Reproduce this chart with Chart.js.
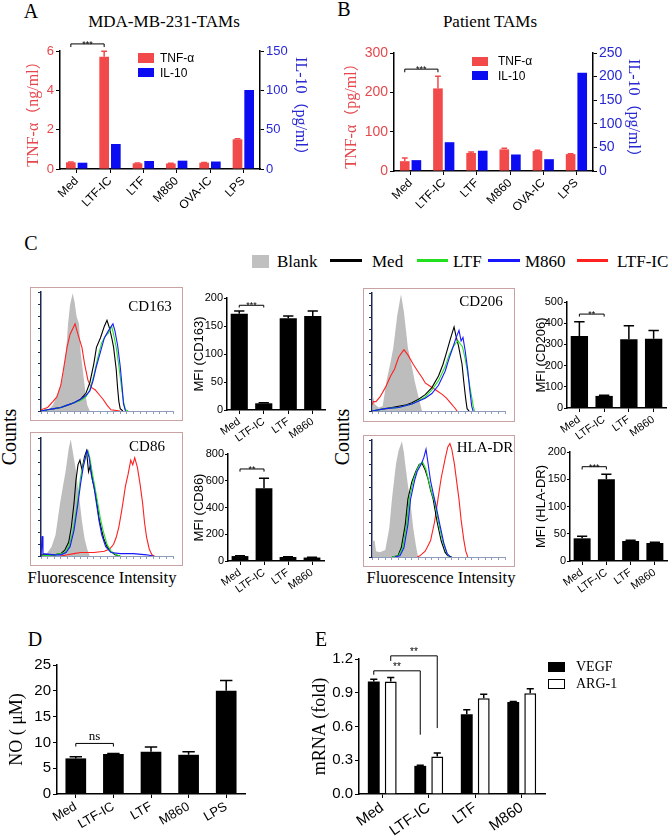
<!DOCTYPE html>
<html>
<head>
<meta charset="utf-8">
<script src="https://cdn.jsdelivr.net/npm/chart.js@4.4.0/dist/chart.umd.min.js"></script>
<style>
  body { margin: 0; background: #fff; width: 669px; height: 837px; position: relative; overflow: hidden; }
  canvas { position: absolute; }
</style>
</head>
<body>
<script>
// ---- data ----
const catsAB = ['Med', 'LTF-IC', 'LTF', 'M860', 'OVA-IC', 'LPS'];
const tnfA = [0.34, 5.71, 0.29, 0.28, 0.32, 1.51];
const tnfAErr = [0.02, 0.28, 0.01, 0.01, 0.01, 0.03];
const il10A = [8, 31.8, 10.2, 10.6, 9.5, 100.4];
const tnfB = [25, 210, 46, 55, 51, 43];
const tnfBErr = [8, 31, 2, 3, 2, 1];
const il10B = [23, 61, 43, 35, 25, 208];

const catsC = ['Med', 'LTF-IC', 'LTF', 'M860'];
const mfiCD163 = [172, 12, 164, 168];
const mfiCD163Err = [5, 1, 4, 9];
const mfiCD86 = [37, 543, 30, 26];
const mfiCD86Err = [3, 75, 2, 2];
const mfiCD206 = [340, 57, 324, 327];
const mfiCD206Err = [67, 3, 64, 38];
const mfiHLADR = [41.6, 150, 36.7, 33];
const mfiHLADRErr = [4, 9, 1.5, 1.5];

const catsD = ['Med', 'LTF-IC', 'LTF', 'M860', 'LPS'];
const noD = [6.9, 7.75, 8.2, 7.6, 20];
const noDErr = [0.3, 0.1, 0.9, 0.6, 2];

const catsE = ['Med', 'LTF-IC', 'LTF', 'M860'];
const vegf = [1.0, 0.25, 0.71, 0.817];
const vegfErr = [0.02, 0.005, 0.04, 0.005];
const arg1 = [1.0, 0.334, 0.852, 0.896];
const arg1Err = [0.035, 0.03, 0.035, 0.04];

// histogram curves [intensity, counts] (both 0-100)
const h163Blank = [[5,0],[9,5],[13,15],[16,26],[19,50],[20.5,74],[22,90],[24,100],[25.5,92],[27,80],[28.8,74],[30,50],[32.6,26],[34,12],[35,5],[37,0]];
const h163Red = [[0,1],[5,3],[9,8],[12,12],[15,22],[17,35],[19.7,54],[22,65],[25.8,74],[28,65],[31,54],[33,40],[35.6,26],[38,20],[41,18],[44,14],[47,10],[50,5],[53,1],[60,0]];
const h163Med = [[0,0],[5,1],[10,2],[15,3],[20,5],[25,7],[30,10],[34,15],[37,24],[40,40],[42,54],[45,62],[48,72],[50,77],[52,70],[54,60],[55,54],[57,35],[58,20],[59,8],[60,2],[62,0]];
const h163Ltf = [[0,0],[5,1],[10,2],[15,3],[20,5],[25,7],[30,9],[34,12],[37,18],[40,30],[43,45],[46,58],[49,64],[51,66],[53.5,72],[55,65],[57,54],[59,38],[61,20],[62.5,8],[64,1],[66,0]];
const h163M860 = [[0,0],[5,1],[10,2],[15,3],[20,5],[25,7],[30,10],[34,13],[37,17],[39.5,26],[42,38],[45,50],[48,62],[51,68],[54.5,74],[56,68],[58,56],[60,38],[61.5,20],[62.5,6],[64,0]];

const h86Blank = [[3,0],[5,3],[8,8],[11,18],[14.4,45],[17,62],[18.7,73],[21,92],[22.5,100],[24,90],[26.5,73],[28,58],[29.5,45],[31,30],[33,15],[35,6],[37,0]];
const h86Red = [[15,0],[20,1],[25,2],[30,3],[40,3],[48,4],[52,6],[55,10],[57,16],[59,25],[61,38],[62,45],[64,60],[66,70],[68,82],[69.5,78],[71,84],[73,76],[75,62],[77,45],[78.5,28],[80,16],[82,6],[84,1],[86,0]];
const h86Med = [[0,1],[5,1],[10,1],[15,2],[18,5],[21,12],[23,25],[25,45],[26.5,65],[28,78],[29.5,82],[31,74],[33,85],[34.5,90],[36,72],[37.5,78],[39,65],[41,55],[42.4,45],[44,32],[46,22],[47.5,15],[50,8],[53,4],[56,1],[60,0]];
const h86Ltf = [[0,0],[10,1],[15,2],[18,3],[21,8],[24,20],[27.5,45],[30,68],[32,78],[34,86],[35.6,90],[37,84],[39,70],[41,58],[43,45],[45,32],[47,22],[50,10],[53,4],[57,1],[60,0]];
const h86M860 = [[0,0],[0.8,17],[1.5,2],[10,1],[15,1],[19,3],[22,8],[25,22],[28,45],[30,62],[32,76],[34,86],[35,90],[36.5,84],[38,70],[40,60],[42,45],[44,30],[46,18],[49,8],[53,3],[60,2],[70,2],[80,1],[85,0]];

const h206Blank = [[0,0],[0.5,14],[2,6],[5,3],[8,4],[11,26],[14,42],[16,54],[19,82],[21.8,100],[24,85],[27,54],[30,38],[32,26],[35,12],[37.6,0]];
const h206Red = [[0,5],[1,8],[3,8],[6,12],[10,20],[14,30],[17,36],[20,46],[24,52.5],[27,48],[31,40],[35,33],[38,28],[40,24],[44,21],[48,18],[53,14],[56,11],[59,7],[62,3],[64,0]];
const h206Med = [[0,0],[5,1],[10,2],[15,3],[20,4],[25,5],[30,7],[35,10],[40,14],[45,20],[50,30],[53.4,40],[56,50],[59,62],[61.7,72],[63,65],[65,56],[67.7,40],[69,25],[70.5,10],[71.5,2],[73,0]];
const h206Ltf = [[0,0],[10,2],[20,3],[30,6],[40,12],[45,18],[50,26],[55,38],[58,48],[61,55],[63,58],[64.7,60],[66,58],[68,55],[70,45],[72,32],[74,18],[76,5],[77,0]];
const h206M860 = [[0,0],[10,2],[20,3],[30,6],[40,11],[45,15],[50,22],[55,34],[58,45],[61,55],[63,62],[65.4,69],[67,60],[68.4,63],[70,52],[72,35],[73.5,18],[75,4],[76,0]];

const hHlaBlank = [[0,0],[0.5,14],[2,14],[3,5],[6,4],[10,6],[13,25],[15,50],[18,80],[20,92],[22.5,100],[24,90],[25,80],[27,62],[28.6,50],[31,25],[33,10],[34.6,0]];
const hHlaRed = [[34,0],[36,1],[40,5],[44,14],[47,30],[49.6,50],[52,68],[55,85],[57,95],[58.6,98],[60,93],[62,80],[64,62],[65.4,50],[67,32],[69,15],[70.5,5],[72,0]];
const hHlaMed = [[15,0],[19.5,1],[22,8],[25,28],[27,50],[30,65],[33,74],[35.5,80],[37.6,81],[40,75],[42,68],[44,58],[46,50],[49,30],[52,14],[55,4],[57,1],[60,0]];
const hHlaLtf = [[15,0],[20,1],[23,8],[26,28],[28,50],[31,66],[34,76],[36,80],[38,82],[40.5,76],[43,64],[45,55],[47,48],[50,30],[53,14],[56,4],[58,0]];
const hHlaM860 = [[17,0],[21,1],[24,8],[27,28],[29,50],[32,66],[34,74],[37,80],[39,86],[40.6,93],[42,82],[44,66],[46,55],[48,45],[51,28],[54,12],[56.5,3],[59,0]];

// ---- styles ----
const SANS = "'Liberation Sans', Arial, sans-serif";
const SERIF = "'Liberation Serif', 'Noto Sans CJK SC', serif";
const RED = '#f24a4a';
const BLUE = '#0c0cf2';
const RED_TXT = '#e5484c';
const BLUE_TXT = '#2828d2';

function el(tag, css, text) {
  const d = document.createElement(tag);
  d.style.cssText = 'position:absolute;' + css;
  if (text !== undefined) d.textContent = text;
  document.body.appendChild(d);
  return d;
}

// text centred on (x, y); left:true anchors left edge instead
function txt(s, x, y, o) {
  const tx = o.left ? '0' : '-50%';
  el('div', `left:${x}px;top:${y}px;white-space:nowrap;line-height:1;font-family:${o.fam || SERIF};` +
    `font-size:${o.size}px;color:${o.color || '#000'};transform:translate(${tx},-50%) rotate(${o.rot || 0}deg);`, s);
}

function rect(x, y, w, h, css) {
  el('div', `left:${x}px;top:${y}px;width:${w}px;height:${h}px;box-sizing:border-box;${css}`);
}

// canvas placed so that the plot area lands on plot {l,r,t,b}
function canvasFor(plot, m) {
  const c = document.createElement('canvas');
  const w = plot.r - plot.l + m.l + m.r;
  const h = plot.b - plot.t + m.t + m.b;
  c.width = w; c.height = h;
  c.style.cssText = `left:${plot.l - m.l}px;top:${plot.t - m.t}px;width:${w}px;height:${h}px`;
  document.body.appendChild(c);
  return c;
}

const errorBars = {
  id: 'errorBars',
  afterDatasetsDraw(chart) {
    const ctx = chart.ctx;
    chart.data.datasets.forEach((ds, i) => {
      if (!ds.err) return;
      const meta = chart.getDatasetMeta(i);
      const scale = chart.scales[meta.yAxisID];
      meta.data.forEach((bar, j) => {
        const e = ds.err[j];
        if (!e) return;
        const yTop = scale.getPixelForValue(ds.data[j] + e);
        const hw = bar.width * 0.3;
        ctx.save();
        ctx.strokeStyle = ds.errColor || ds.backgroundColor;
        ctx.lineWidth = 1.5;
        ctx.beginPath();
        ctx.moveTo(bar.x, bar.y);
        ctx.lineTo(bar.x, yTop);
        ctx.moveTo(bar.x - hw, yTop);
        ctx.lineTo(bar.x + hw, yTop);
        ctx.stroke();
        ctx.restore();
      });
    });
  }
};

// significance brackets: a/b = [dataset, index], y = line value, ya/yb = leg ends
function bracketPlugin(items) {
  return {
    id: 'brackets',
    afterDatasetsDraw(chart) {
      const ctx = chart.ctx;
      const ys = chart.scales.y;
      items.forEach(b => {
        const x1 = chart.getDatasetMeta(b.a[0]).data[b.a[1]].x;
        const x2 = chart.getDatasetMeta(b.b[0]).data[b.b[1]].x;
        const y = ys.getPixelForValue(b.y);
        ctx.save();
        ctx.strokeStyle = '#000';
        ctx.lineWidth = 1;
        ctx.beginPath();
        ctx.moveTo(x1, ys.getPixelForValue(b.ya));
        ctx.lineTo(x1, y);
        ctx.lineTo(x2, y);
        ctx.lineTo(x2, ys.getPixelForValue(b.yb));
        ctx.stroke();
        ctx.fillStyle = '#000';
        ctx.font = b.font || `10px ${SANS}`;
        ctx.textAlign = 'center';
        ctx.textBaseline = 'alphabetic';
        ctx.fillText(b.text, (x1 + x2) / 2, y + (b.dy || 0));
        ctx.restore();
      });
    }
  };
}

function yAxis(o) {
  return {
    position: o.pos || 'left',
    min: 0, max: o.max,
    ticks: { stepSize: o.step, color: o.color || '#000', font: { family: SANS, size: o.size }, padding: o.pad || 2,
             callback: o.fmt || (v => v) },
    grid: { drawOnChartArea: false, tickLength: o.tl || 4, color: '#000', lineWidth: 1 },
    border: { color: '#000', width: 1.5 },
    title: { display: true, text: o.title, color: o.tcolor || '#000', padding: 0,
             font: { family: o.tfam || SANS, size: o.tsize, lineHeight: 1 } },
    afterFit: s => { s.width = o.w; }
  };
}

function xAxis(o) {
  return {
    ticks: { color: '#000', font: { family: SANS, size: o.size }, maxRotation: o.rot, minRotation: o.rot,
             padding: 1, autoSkip: false },
    grid: { offset: false, drawOnChartArea: false, tickLength: 4, color: '#000', lineWidth: 1 },
    border: { color: '#000', width: 1.5 },
    afterFit: s => { s.height = o.h; }
  };
}

function barChart(cfg) {
  const c = canvasFor(cfg.plot, cfg.m);
  const scales = { x: cfg.x, y: cfg.y };
  if (cfg.y1) scales.y1 = cfg.y1;
  new Chart(c, {
    type: 'bar',
    data: { labels: cfg.labels, datasets: cfg.datasets },
    options: {
      responsive: false, animation: false,
      layout: { padding: { top: cfg.m.t, right: cfg.y1 ? 0 : cfg.m.r, left: 0, bottom: 0 } },
      plugins: { legend: { display: false }, tooltip: { enabled: false } },
      scales
    },
    plugins: [errorBars, bracketPlugin(cfg.brackets || [])]
  });
}

function histChart(plot, curves) {
  const m = { l: 4, r: 4, t: 4, b: 6 };
  const c = canvasFor(plot, m);
  const cols = { red: '#ff2020', med: '#000000', ltf: '#20e020', m860: '#1818ff' };
  const order = { red: 4, med: 3, ltf: 2, m860: 1 };
  const datasets = [{
    data: curves.blank.map(p => ({ x: p[0], y: p[1] })), showLine: true, pointRadius: 0,
    borderWidth: 0, borderColor: '#bdbdbd', backgroundColor: '#bdbdbd', fill: 'origin', order: 10
  }];
  ['red', 'med', 'ltf', 'm860'].forEach(k => {
    datasets.push({
      data: curves[k].map(p => ({ x: p[0], y: p[1] })), showLine: true, pointRadius: 0,
      borderWidth: 1.1, borderColor: cols[k], backgroundColor: cols[k], fill: false, order: order[k]
    });
  });
  new Chart(c, {
    type: 'scatter',
    data: { datasets },
    options: {
      responsive: false, animation: false,
      layout: { padding: { top: m.t, right: m.r, left: 0, bottom: 0 } },
      plugins: { legend: { display: false }, tooltip: { enabled: false } },
      scales: {
        x: { type: 'linear', min: 0, max: 100, ticks: { display: false, stepSize: 5 },
             grid: { drawOnChartArea: false, tickLength: 3, color: '#8e9cba' },
             border: { color: '#8e9cba', width: 1 }, afterFit: s => { s.height = m.b; } },
        y: { min: 0, max: 101, ticks: { display: false, stepSize: 10 },
             grid: { drawOnChartArea: false, tickLength: 3, color: '#1b2a52' },
             border: { color: '#1b2a52', width: 1.5 }, afterFit: s => { s.width = m.l; } }
      }
    }
  });
}

// ---- panel A ----
txt('A', 31, 11, { size: 20 });
txt('MDA-MB-231-TAMs', 164, 21, { size: 17 });
barChart({
  plot: { l: 60, r: 260, t: 51, b: 169 }, m: { l: 34, r: 48, t: 16, b: 50 },
  labels: catsAB,
  datasets: [
    { data: tnfA, err: tnfAErr, backgroundColor: RED, yAxisID: 'y', categoryPercentage: 0.7, barPercentage: 0.83 },
    { data: il10A, backgroundColor: BLUE, yAxisID: 'y1', categoryPercentage: 0.7, barPercentage: 0.83 }
  ],
  x: xAxis({ size: 12, rot: 45, h: 50 }),
  y: yAxis({ max: 6, step: 2, size: 13, color: RED_TXT, title: 'TNF-α（ng/ml）', tcolor: RED_TXT, tfam: SERIF, tsize: 16, w: 34 }),
  y1: yAxis({ pos: 'right', max: 150, step: 50, size: 13, color: BLUE_TXT, title: 'IL-10（pg/ml）', tcolor: BLUE_TXT, tfam: SERIF, tsize: 16, w: 48 }),
  brackets: [{ a: [0, 0], b: [0, 1], y: 6.36, ya: 6.2, yb: 6.2, text: '***', dy: 3, font: `9px ${SANS}` }]
});
rect(138, 53, 16, 10, `background:${RED}`);
txt('TNF-α', 160, 58, { size: 12, fam: SANS, left: true });
rect(138, 68, 16, 9, `background:${BLUE}`);
txt('IL-10', 160, 73, { size: 12, fam: SANS, left: true });

// ---- panel B ----
txt('B', 344, 9, { size: 20 });
txt('Patient TAMs', 490, 21, { size: 17 });
barChart({
  plot: { l: 394, r: 593, t: 53, b: 171 }, m: { l: 50, r: 48, t: 16, b: 50 },
  labels: catsAB,
  datasets: [
    { data: tnfB, err: tnfBErr, backgroundColor: RED, yAxisID: 'y', categoryPercentage: 0.7, barPercentage: 0.83 },
    { data: il10B, backgroundColor: BLUE, yAxisID: 'y1', categoryPercentage: 0.7, barPercentage: 0.83 }
  ],
  x: xAxis({ size: 12, rot: 45, h: 50 }),
  y: yAxis({ max: 300, step: 100, size: 14, color: RED_TXT, title: 'TNF-α（pg/ml）', tcolor: RED_TXT, tfam: SERIF, tsize: 16, w: 50 }),
  y1: yAxis({ pos: 'right', max: 250, step: 50, size: 14, color: BLUE_TXT, title: 'IL-10（pg/ml）', tcolor: BLUE_TXT, tfam: SERIF, tsize: 16, w: 48 }),
  brackets: [{ a: [0, 0], b: [0, 1], y: 259, ya: 251, yb: 251, text: '***', dy: 3, font: `9px ${SANS}` }]
});
rect(472, 57, 16, 9, `background:${RED}`);
txt('TNF-α', 498, 61, { size: 12, fam: SANS, left: true });
rect(472, 71, 16, 9, `background:${BLUE}`);
txt('IL-10', 498, 76, { size: 12, fam: SANS, left: true });

// ---- panel C ----
txt('C', 31, 243, { size: 20 });
rect(252, 255, 17, 13, 'background:#c0c0c0');
txt('Blank', 277, 261, { size: 17, left: true });
rect(330, 259, 32, 3, 'background:#000');
txt('Med', 372, 261, { size: 17, left: true });
rect(417, 259, 31, 3, 'background:#20e020');
txt('LTF', 453, 261, { size: 17, left: true });
rect(488, 259, 32, 3, 'background:#1818ff');
txt('M860', 525, 261, { size: 17, left: true });
rect(577, 259, 31, 3, 'background:#ff2020');
txt('LTF-IC', 617, 261, { size: 17, left: true });

const frameCss = 'border:1px solid #c9a3a3';
rect(30, 287, 153, 134, frameCss);
rect(30, 432, 153, 134, frameCss);
rect(363, 288, 152, 134, frameCss);
rect(363, 435, 152, 132, frameCss);

histChart({ l: 41, r: 173, t: 292, b: 411 }, { blank: h163Blank, red: h163Red, med: h163Med, ltf: h163Ltf, m860: h163M860 });
histChart({ l: 41, r: 173, t: 438, b: 556 }, { blank: h86Blank, red: h86Red, med: h86Med, ltf: h86Ltf, m860: h86M860 });
histChart({ l: 372, r: 505, t: 293, b: 411 }, { blank: h206Blank, red: h206Red, med: h206Med, ltf: h206Ltf, m860: h206M860 });
histChart({ l: 372, r: 505, t: 440, b: 557 }, { blank: hHlaBlank, red: hHlaRed, med: hHlaMed, ltf: hHlaLtf, m860: hHlaM860 });

txt('CD163', 150, 306, { size: 15 });
txt('CD86', 147, 446, { size: 15 });
txt('CD206', 481, 301, { size: 15 });
txt('HLA-DR', 485, 447, { size: 15 });
txt('Counts', 9, 437, { size: 20, rot: -90 });
txt('Counts', 342, 437, { size: 20, rot: -90 });
txt('Fluorescence Intensity', 102, 578, { size: 16.5 });
txt('Fluorescence Intensity', 441, 578, { size: 16.5 });

function mfiChart(plot, ml, mr, data, err, max, step, title, br) {
  barChart({
    plot, m: { l: ml, r: mr, t: 16, b: 40 },
    labels: catsC,
    datasets: [{ data, err, backgroundColor: '#000', categoryPercentage: 0.7, barPercentage: 1 }],
    x: xAxis({ size: 11, rot: 35, h: 40 }),
    y: yAxis({ max, step, size: 11, pad: 1, tl: 3, title, tsize: 13, w: ml }),
    brackets: [br]
  });
}
mfiChart({ l: 227, r: 325, t: 298, b: 410 }, 34, 8, mfiCD163, mfiCD163Err, 200, 50, 'MFI (CD163)',
  { a: [0, 0], b: [0, 1], y: 187, ya: 183, yb: 183, text: '***', dy: 3, font: `9px ${SANS}` });
mfiChart({ l: 228, r: 324, t: 454, b: 561 }, 35, 8, mfiCD86, mfiCD86Err, 800, 200, 'MFI (CD86)',
  { a: [0, 0], b: [0, 1], y: 688, ya: 668, yb: 668, text: '**', dy: 3, font: `9px ${SANS}` });
mfiChart({ l: 567, r: 666, t: 302, b: 408 }, 32, 3, mfiCD206, mfiCD206Err, 500, 100, 'MFI (CD206)',
  { a: [0, 0], b: [0, 1], y: 443, ya: 431, yb: 431, text: '**', dy: 3, font: `9px ${SANS}` });
mfiChart({ l: 570, r: 667, t: 452, b: 561 }, 35, 2, mfiHLADR, mfiHLADRErr, 200, 50, 'MFI (HLA-DR)',
  { a: [0, 0], b: [0, 1], y: 173, ya: 168, yb: 168, text: '***', dy: 3, font: `9px ${SANS}` });

// ---- panel D ----
txt('D', 35, 639, { size: 20 });
barChart({
  plot: { l: 57, r: 245, t: 665, b: 794 }, m: { l: 49, r: 8, t: 14, b: 42 },
  labels: catsD,
  datasets: [{ data: noD, err: noDErr, backgroundColor: '#000', categoryPercentage: 0.55, barPercentage: 1 }],
  x: xAxis({ size: 13, rot: 30, h: 42 }),
  y: yAxis({ max: 25, step: 5, size: 15, title: 'NO ( μM)', tfam: SERIF, tsize: 18, w: 49 }),
  brackets: [{ a: [0, 0], b: [0, 1], y: 9.8, ya: 9.2, yb: 9.2, text: 'ns', dy: -3, font: `13px ${SERIF}` }]
});

// ---- panel E ----
txt('E', 321, 639, { size: 20 });
barChart({
  plot: { l: 359, r: 545, t: 659, b: 794 }, m: { l: 48, r: 6, t: 16, b: 43 },
  labels: catsE,
  datasets: [
    { data: vegf, err: vegfErr, backgroundColor: '#000', categoryPercentage: 0.73, barPercentage: 0.7 },
    { data: arg1, err: arg1Err, errColor: '#000', backgroundColor: '#fff', borderColor: '#000', borderWidth: 1.5,
      categoryPercentage: 0.73, barPercentage: 0.7 }
  ],
  x: xAxis({ size: 15, rot: 35, h: 43 }),
  y: yAxis({ max: 1.2, step: 0.3, size: 15, fmt: v => v.toFixed(1), title: 'mRNA (fold)', tfam: SERIF, tsize: 18, w: 48 }),
  brackets: [
    { a: [0, 0], b: [0, 1], y: 1.095, ya: 1.06, yb: 0.527, text: '**', dy: -1, font: `10px ${SANS}` },
    { a: [1, 0], b: [1, 1], y: 1.228, ya: 1.183, yb: 0.586, text: '**', dy: -1, font: `10px ${SANS}` }
  ]
});
rect(548, 662, 17, 10, 'background:#000');
txt('VEGF', 576, 667, { size: 14, left: true });
rect(548, 679, 17, 10, 'border:1.2px solid #000;background:#fff');
txt('ARG-1', 576, 684, { size: 14, left: true });
</script>
</body>
</html>
